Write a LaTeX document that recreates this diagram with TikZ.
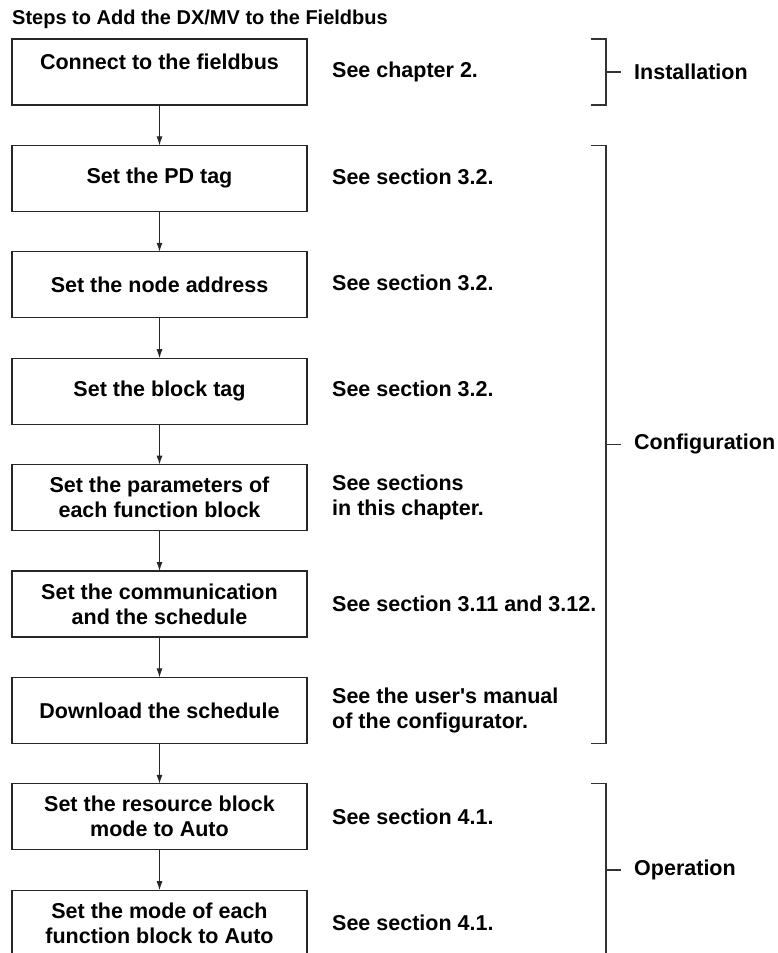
\documentclass[tikz,border=0pt]{standalone}
\usepackage{fontspec}
\setmainfont{Liberation Sans}
\usetikzlibrary{arrows.meta,positioning,calc}

\begin{document}
\begin{tikzpicture}[
  x=1pt, y=-1pt,
  node distance=40.4pt,
  every node/.style={font=\fontsize{21.5}{25}\selectfont\bfseries},
  stepbox/.style={rectangle,draw=black!85,line width=1.3pt,outer sep=0pt,minimum width=295pt,minimum height=66pt,align=center,inner sep=0pt},
  note/.style={align=left,inner sep=0pt},
  phase/.style={inner sep=0pt,anchor=west},
  arr/.style={-{Latex[length=9pt,width=6pt]},line width=1pt,black!85},
  brk/.style={line width=1.3pt,black!80},
]
\useasboundingbox (0,0) rectangle (777,953);
\clip (0,0) rectangle (777,953);

\node[anchor=base west,inner sep=0pt,font=\fontsize{20}{24}\selectfont\bfseries] (title) at (12,24) {Steps to Add the DX/MV to the Fieldbus};

% steps
\node[stepbox] (connect) at (159.5,72) {Connect to the fieldbus\\[-5pt]\mbox{}};
\node[stepbox,below=of connect] (pdtag) {Set the PD tag};
\node[stepbox,below=of pdtag] (nodeaddr) {Set the node address};
\node[stepbox,below=of nodeaddr] (blocktag) {Set the block tag};
\node[stepbox,below=of blocktag] (params) {Set the parameters of\\each function block};
\node[stepbox,below=of params] (comm) {Set the communication\\and the schedule};
\node[stepbox,below=of comm] (download) {Download the schedule};
\node[stepbox,below=of download] (resmode) {Set the resource block\\mode to Auto};
\node[stepbox,below=of resmode] (fbmode) {Set the mode of each\\function block to Auto};

% references
\node[note,right=25pt of connect] (refconnect) {See chapter 2.};
\node[note,right=25pt of pdtag,yshift=2pt] (refpdtag) {See section 3.2.};
\node[note,right=25pt of nodeaddr,yshift=2pt] (refnodeaddr) {See section 3.2.};
\node[note,right=25pt of blocktag,yshift=2pt] (refblocktag) {See section 3.2.};
\node[note,right=25pt of params] (refparams) {See sections\\in this chapter.};
\node[note,right=25pt of comm] (refcomm) {See section 3.11 and 3.12.};
\node[note,right=25pt of download] (refdownload) {See the user\textquotesingle s manual\\of the configurator.};
\node[note,right=25pt of resmode] (refresmode) {See section 4.1.};
\node[note,right=25pt of fbmode] (reffbmode) {See section 4.1.};

\draw[arr] (connect) -- (pdtag);
\draw[arr] (pdtag) -- (nodeaddr);
\draw[arr] (nodeaddr) -- (blocktag);
\draw[arr] (blocktag) -- (params);
\draw[arr] (params) -- (comm);
\draw[arr] (comm) -- (download);
\draw[arr] (download) -- (resmode);
\draw[arr] (resmode) -- (fbmode);

% brackets
\coordinate (bx) at (606,0);
\draw[brk] ($(bx |- connect.north)+(-15,0)$) -- (bx |- connect.north) -- (bx |- connect.south) -- ++(-15,0);
\coordinate (instmid) at ($(bx |- connect.north)!0.5!(bx |- connect.south)$);
\node[phase] (installation) at ([xshift=28pt]instmid) {Installation};
\draw[brk] (instmid) -- ([xshift=-13pt]installation.west);

\draw[brk] ($(bx |- pdtag.north)+(-15,0)$) -- (bx |- pdtag.north) -- (bx |- download.south) -- ++(-15,0);
\coordinate (confmid) at ($(bx |- pdtag.north)!0.5!(bx |- download.south)$);
\node[phase] (configuration) at ([xshift=28pt]confmid) {Configuration};
\draw[brk] (confmid) -- ([xshift=-13pt]configuration.west);

\draw[brk] ($(bx |- resmode.north)+(-15,0)$) -- (bx |- resmode.north) -- (bx |- fbmode.south) -- ++(-15,0);
\coordinate (opmid) at ($(bx |- resmode.north)!0.5!(bx |- fbmode.south)$);
\node[phase] (operation) at ([xshift=28pt]opmid) {Operation};
\draw[brk] (opmid) -- ([xshift=-13pt]operation.west);
\end{tikzpicture}
\end{document}
